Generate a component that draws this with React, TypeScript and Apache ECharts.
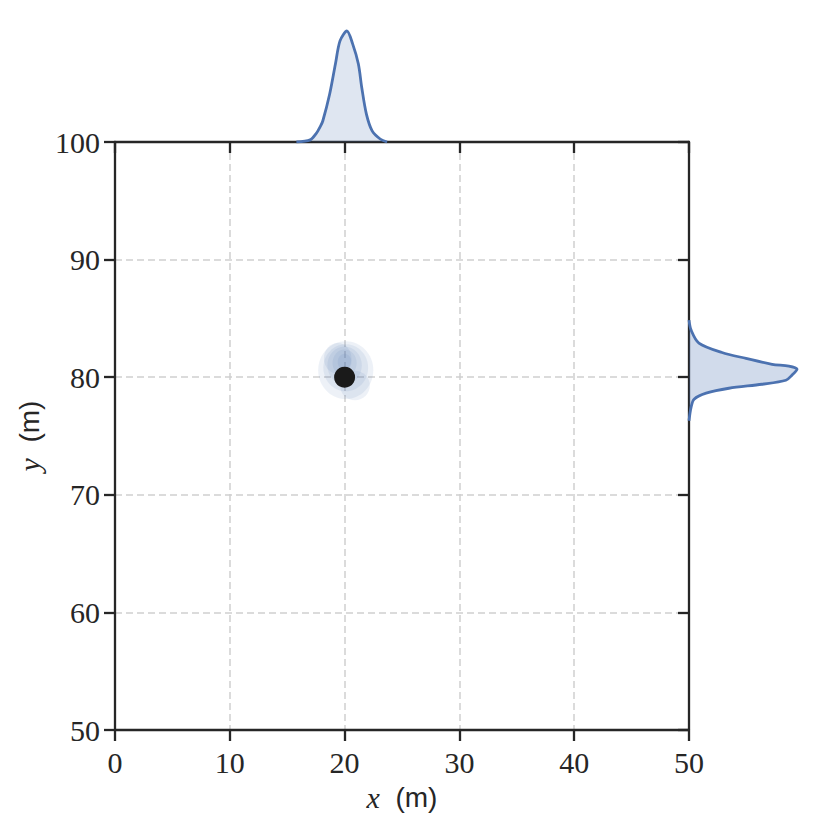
import React, { useEffect, useRef } from "react";
import * as echarts from "echarts";

// Main scatter point
const pointX = [20];
const pointY = [80];

// 2-D KDE contour levels: [centerX, centerY, radiusX, radiusY] (data units)
const kdeLevels = [
  [20.1, 80.6, 2.4, 2.45],
  [20.9, 79.3, 1.3, 1.25],
  [19.4, 81.6, 1.2, 1.3],
  [20.1, 80.8, 1.95, 2.0],
  [20.0, 81.0, 1.5, 1.6],
  [20.0, 81.2, 1.05, 1.15],
  [20.0, 81.3, 0.6, 0.7],
];

// Top marginal KDE (x distribution)
const topKdeX = [15.8, 17.0, 17.5, 17.9, 18.1, 18.7, 19.2, 19.6, 20.2, 20.7, 21.2, 21.5, 21.9, 22.4, 23.1, 23.7];
const topKdeDensity = [0, 0.007, 0.027, 0.053, 0.07, 0.16, 0.26, 0.337, 0.37, 0.327, 0.26, 0.18, 0.093, 0.037, 0.01, 0];

// Right marginal KDE (y distribution)
const rightKdeY = [84.85, 84.0, 82.9, 82.1, 81.6, 81.1, 80.94, 80.68, 80.17, 79.74, 79.4, 79.06, 78.64, 78.13, 77.45, 76.3];
const rightKdeDensity = [0, 0.007, 0.033, 0.11, 0.19, 0.277, 0.333, 0.36, 0.343, 0.323, 0.243, 0.133, 0.057, 0.017, 0.007, 0];

const xMin = 0, xMax = 50, xStep = 10;
const yMin = 50, yMax = 100, yStep = 10;

const INK = "#262626";
const BLUE = "#4c72b0";
const FILL = "rgba(76,114,176,0.26)";
const SERIF = "Liberation Serif";
const SANS = "Liberation Sans";

export default function App() {
  const ref = useRef<HTMLDivElement>(null);
  useEffect(() => {
    document.body.style.margin = "0";
    if (!ref.current) return;
    const chart = echarts.init(ref.current, undefined, { renderer: "svg" });
    const tickLabel = { fontFamily: SERIF, fontSize: 30, color: INK };
    const split = { show: true, lineStyle: { color: "#cfcfcf", width: 1.5, type: [7, 4] as any } };
    const spine = { show: true, onZero: false, lineStyle: { color: INK, width: 2.3 } };
    const nameRich = {
      i: { fontFamily: SERIF, fontStyle: "italic", fontSize: 30, color: INK },
      s: { fontFamily: SANS, fontSize: 28, color: INK },
    };
    chart.setOption({
      animation: false,
      backgroundColor: "#ffffff",
      grid: [
        { left: 115, right: 141, top: 142, height: 588 },
        { left: 115, right: 141, top: 22, height: 120 },
        { left: 689, width: 120, top: 142, height: 588 },
      ],
      xAxis: [
        {
          gridIndex: 0, type: "value", min: xMin, max: xMax, interval: xStep, position: "bottom",
          axisLine: spine,
          axisTick: { show: true, length: 11, lineStyle: { color: INK, width: 2.3 } },
          axisLabel: { ...tickLabel, margin: 17 },
          splitLine: split,
          name: "{i|x}{s|  (m)}", nameLocation: "middle", nameGap: 52,
          nameTextStyle: { rich: nameRich },
        },
        {
          gridIndex: 0, type: "value", min: xMin, max: xMax, interval: xStep, position: "top",
          axisLine: spine,
          axisTick: { show: true, inside: true, length: 11, lineStyle: { color: INK, width: 2.3 } },
          axisLabel: { show: false }, splitLine: { show: false },
        },
        { gridIndex: 1, type: "value", min: xMin, max: xMax, show: false },
        { gridIndex: 2, type: "value", min: 0, max: 0.4, show: false },
      ],
      yAxis: [
        {
          gridIndex: 0, type: "value", min: yMin, max: yMax, interval: yStep, position: "left",
          axisLine: spine,
          axisTick: { show: true, length: 11, lineStyle: { color: INK, width: 2.3 } },
          axisLabel: { ...tickLabel, margin: 15 },
          splitLine: split,
          name: "{i|y}{s|  (m)}", nameLocation: "middle", nameGap: 66,
          nameTextStyle: { rich: nameRich },
        },
        {
          gridIndex: 0, type: "value", min: yMin, max: yMax, interval: yStep, position: "right",
          axisLine: spine,
          axisTick: { show: true, inside: true, length: 11, lineStyle: { color: INK, width: 2.3 } },
          axisLabel: { show: false }, splitLine: { show: false },
        },
        { gridIndex: 1, type: "value", min: 0, max: 0.4, show: false },
        { gridIndex: 2, type: "value", min: yMin, max: yMax, show: false },
      ],
      series: [
        {
          type: "custom",
          xAxisIndex: 0, yAxisIndex: 0,
          data: kdeLevels,
          encode: { x: 0, y: 1 },
          z: 2,
          renderItem: (params: any, api: any) => {
            const c = api.coord([api.value(0), api.value(1)]);
            const s = api.size([api.value(2), api.value(3)]);
            return {
              type: "ellipse",
              shape: { cx: c[0], cy: c[1], rx: s[0], ry: s[1] },
              style: { fill: "rgba(76,114,176,0.1)", stroke: "none" },
            };
          },
        },
        {
          type: "scatter",
          xAxisIndex: 0, yAxisIndex: 0,
          data: pointX.map((x, i) => [x, pointY[i]]),
          symbol: "circle", symbolSize: 21,
          itemStyle: { color: "#1a1a1a", opacity: 1 },
          z: 3,
        },
        {
          type: "line",
          xAxisIndex: 2, yAxisIndex: 2,
          data: topKdeX.map((x, i) => [x, topKdeDensity[i]]),
          smooth: 0.3,
          showSymbol: false,
          lineStyle: { color: BLUE, width: 2.8 },
          areaStyle: { color: FILL },
          z: 3,
        },
        {
          type: "custom",
          xAxisIndex: 3, yAxisIndex: 3,
          data: rightKdeDensity.map((d, i) => [d, rightKdeY[i]]),
          encode: { x: 0, y: 1 },
          z: 3,
          renderItem: (params: any, api: any) => {
            if (params.dataIndex !== 0) return null;
            const pts = rightKdeDensity.map((d, i) => api.coord([d, rightKdeY[i]]));
            const bound = [pts[0].slice(), pts[0].slice()];
            return {
              type: "group",
              children: [
                { type: "polygon", shape: { points: pts, smooth: 0.3, smoothConstraint: bound }, style: { fill: FILL, stroke: "none" } },
                { type: "polyline", shape: { points: pts, smooth: 0.3, smoothConstraint: bound }, style: { fill: "none", stroke: BLUE, lineWidth: 2.8 } },
              ],
            };
          },
        },
      ],
    });
    return () => chart.dispose();
  }, []);
  return <div ref={ref} style={{ width: 830, height: 828 }} />;
}
